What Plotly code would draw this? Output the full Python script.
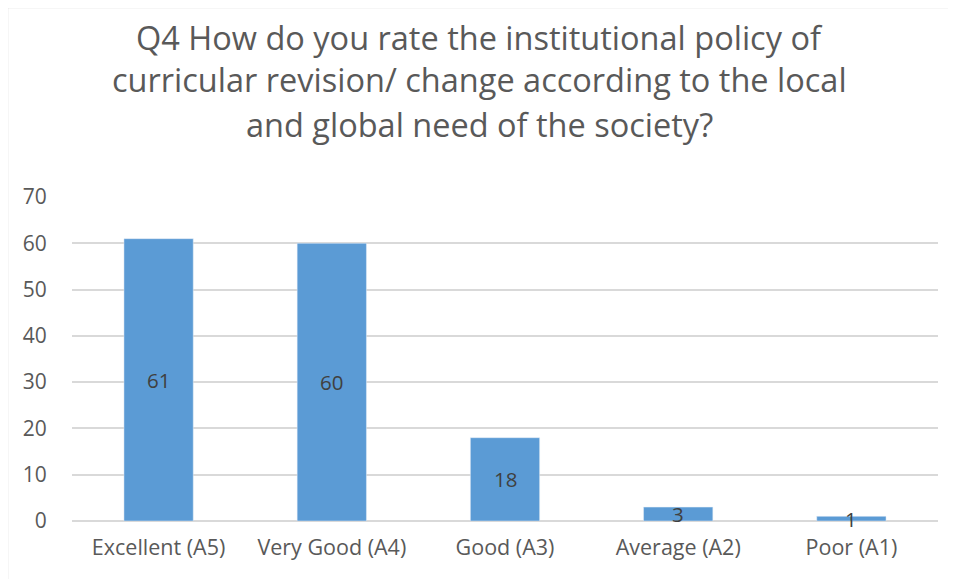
import plotly.graph_objects as go

categories = ["Excellent (A5)", "Very Good (A4)", "Good (A3)", "Average (A2)", "Poor (A1)"]
values = [61, 60, 18, 3, 1]
title_lines = [
    "Q4 How do you rate the institutional policy of",
    "curricular revision/ change according to the local",
    "and global need of the society?",
]

# page offset (body margin in the viewer)
OX, OY = 8, 8
W, H = 956 - OX, 579 - OY
L, R, T, B = 72 - OX, 18, 197 - OY, 58
pw, ph = W - L - R, H - T - B

def px_y(ypix):
    return (H - B - (ypix - OY)) / ph

def px_x(xpix):
    return ((xpix - OX) - L) / pw

FONT = "Open Sans"
fig = go.Figure(go.Bar(
    x=categories, y=values, marker_color="#5B9BD5", width=0.4,
    hoverinfo="x+y",
))

ann = []
for v, c in zip(values, categories):
    ann.append(dict(x=c, y=v / 2, text=str(v), showarrow=False,
                    font=dict(family=FONT, size=20.5, color="#404040"),
                    xref="x", yref="y"))
for i, (line, yp) in enumerate(zip(title_lines, [37, 80, 124])):
    ann.append(dict(x=px_x(479), y=px_y(yp), text=line, showarrow=False,
                    xref="paper", yref="paper", xanchor="center", yanchor="middle",
                    font=dict(family=FONT, size=32.5, color="#595959")))

fig.update_layout(
    width=W, height=H,
    margin=dict(l=L, r=R, t=T, b=B),
    paper_bgcolor="white", plot_bgcolor="white",
    showlegend=False,
    annotations=ann,
    shapes=[dict(type="rect", xref="paper", yref="paper",
                 x0=px_x(7.5), y0=px_y(600), x1=px_x(990), y1=px_y(7.5),
                 line=dict(color="#D9D9D9", width=1.5), fillcolor="rgba(0,0,0,0)",
                 layer="below")],
    xaxis=dict(showgrid=False, showline=False, ticks="outside", ticklen=7,
               tickcolor="rgba(0,0,0,0)",
               tickfont=dict(family=FONT, size=21.5, color="#595959")),
    yaxis=dict(range=[0, 70], dtick=10, showgrid=True, gridcolor="#D9D9D9",
               gridwidth=1.5, zeroline=True, zerolinecolor="#D9D9D9", zerolinewidth=1.5,
               ticks="outside", ticklen=20, tickcolor="rgba(0,0,0,0)",
               tickfont=dict(family=FONT, size=21, color="#595959")),
)
fig.write_html("out.html")
